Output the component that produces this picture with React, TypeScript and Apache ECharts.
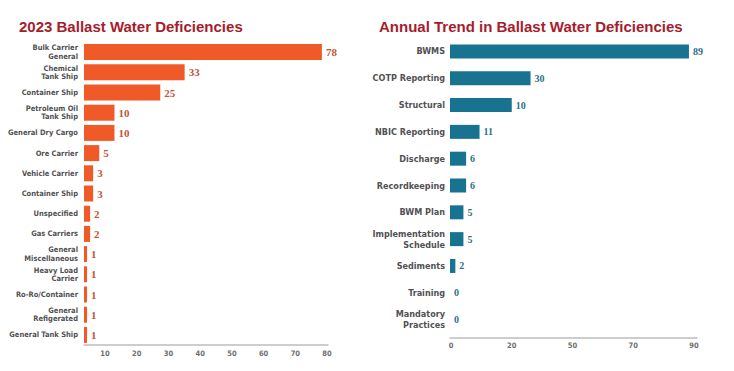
import React, { useEffect, useRef } from "react";
import * as echarts from "echarts";

const vesselCategories = [
  "Bulk Carrier\nGeneral",
  "Chemical\nTank Ship",
  "Container Ship",
  "Petroleum Oil\nTank Ship",
  "General Dry Cargo",
  "Ore Carrier",
  "Vehicle Carrier",
  "Container Ship",
  "Unspecified",
  "Gas Carriers",
  "General\nMiscellaneous",
  "Heavy Load\nCarrier",
  "Ro-Ro/Container",
  "General\nRefigerated",
  "General Tank Ship",
];
const vesselValues = [78, 33, 25, 10, 10, 5, 3, 3, 2, 2, 1, 1, 1, 1, 1];
const vesselTicks = [10, 20, 30, 40, 50, 60, 70, 80];

const trendCategories = [
  "BWMS",
  "COTP Reporting",
  "Structural",
  "NBIC Reporting",
  "Discharge",
  "Recordkeeping",
  "BWM Plan",
  "Implementation\nSchedule",
  "Sediments",
  "Training",
  "Mandatory\nPractices",
];
// bar lengths as drawn in the picture
const trendBarValues = [89, 30, 23, 11, 6, 6, 5, 5, 2, 0, 0];
// numbers printed next to the bars
const trendLabels = [89, 30, 10, 11, 6, 6, 5, 5, 2, 0, 0];
const trendTicks = ["0", "20", "50", "70", "90"];

const COND = "'Liberation Sans Narrow', 'DejaVu Sans Condensed', 'Arial Narrow', 'Roboto', sans-serif";
const SERIF = "'Liberation Serif', 'DejaVu Serif', serif";
const SANS = "'Liberation Sans', Arial, sans-serif";

export default function App() {
  const ref = useRef<HTMLDivElement>(null);
  useEffect(() => {
    if (!ref.current) return;
    const chart = echarts.init(ref.current, undefined, { renderer: "svg" });
    const catLabel = {
      color: "#515153",
      fontFamily: COND,
      fontWeight: "bold" as const,
    };
    chart.setOption({
      animation: false,
      backgroundColor: "#ffffff",
      title: [
        {
          text: "2023 Ballast Water Deficiencies",
          left: 14,
          top: 14,
          textStyle: { color: "#a51d2d", fontFamily: SANS, fontWeight: "bold", fontSize: 15 },
        },
        {
          text: "Annual Trend in Ballast Water Deficiencies",
          left: 374,
          top: 14,
          textStyle: { color: "#a51d2d", fontFamily: SANS, fontWeight: "bold", fontSize: 15 },
        },
      ],
      grid: [
        { left: 84, top: 42, width: 244, height: 303 },
        { left: 450, top: 38, width: 247, height: 295 },
      ],
      xAxis: [
        {
          gridIndex: 0,
          type: "value",
          position: "bottom",
          min: 0,
          max: 80,
          axisLine: { show: true, lineStyle: { color: "#bdbdbd", width: 1.5 } },
          axisTick: { show: false },
          axisLabel: { show: false },
          splitLine: { show: false },
        },
        {
          gridIndex: 0,
          type: "value",
          position: "bottom",
          min: 3.37,
          max: 80.3,
          axisLine: { show: false },
          axisTick: { show: false },
          splitLine: { show: false },
          axisLabel: {
            customValues: vesselTicks,
            margin: 4,
            fontSize: 7.5,
            ...catLabel,
            color: "#6d6e70",
          },
        },
        {
          gridIndex: 1,
          type: "value",
          position: "bottom",
          min: 0,
          max: 92,
          offset: 5,
          axisLine: { show: true, lineStyle: { color: "#bdbdbd", width: 1.5 } },
          axisTick: { show: false },
          axisLabel: { show: false },
          splitLine: { show: false },
        },
        {
          gridIndex: 1,
          type: "value",
          position: "bottom",
          min: -0.016,
          max: 4.05,
          offset: 5,
          axisLine: { show: false },
          axisTick: { show: false },
          splitLine: { show: false },
          axisLabel: {
            customValues: [0, 1, 2, 3, 4],
            formatter: (v: number) => trendTicks[Math.round(v)],
            margin: 3,
            fontSize: 7.5,
            ...catLabel,
            color: "#6d6e70",
          },
        },
      ],
      yAxis: [
        {
          gridIndex: 0,
          type: "category",
          data: vesselCategories,
          inverse: true,
          axisLine: { show: false },
          axisTick: { show: false },
          axisLabel: { ...catLabel, fontSize: 7.5, lineHeight: 8.5, margin: 6, interval: 0 },
        },
        {
          gridIndex: 1,
          type: "category",
          data: trendCategories,
          inverse: true,
          axisLine: { show: false },
          axisTick: { show: false },
          axisLabel: { ...catLabel, fontSize: 9, lineHeight: 11, margin: 5, interval: 0 },
        },
      ],
      series: [
        {
          type: "bar",
          xAxisIndex: 0,
          yAxisIndex: 0,
          data: vesselValues,
          barWidth: 16,
          itemStyle: { color: "#f05a28" },
          label: {
            show: true,
            position: "right",
            distance: 4,
            color: "#bf563b",
            fontFamily: SERIF,
            fontWeight: "bold",
            fontSize: 11,
          },
        },
        {
          type: "bar",
          xAxisIndex: 2,
          yAxisIndex: 1,
          data: trendBarValues,
          barWidth: 14,
          itemStyle: { color: "#187390" },
          label: {
            show: true,
            position: "right",
            distance: 4,
            color: "#2a7189",
            fontFamily: SERIF,
            fontWeight: "bold",
            fontSize: 10,
            formatter: (p: any) => String(trendLabels[p.dataIndex]),
          },
        },
      ],
    });
    return () => chart.dispose();
  }, []);
  return (
    <div
      ref={ref}
      style={{ position: "fixed", left: 0, top: 0, width: 734, height: 371, background: "#fff" }}
    />
  );
}
